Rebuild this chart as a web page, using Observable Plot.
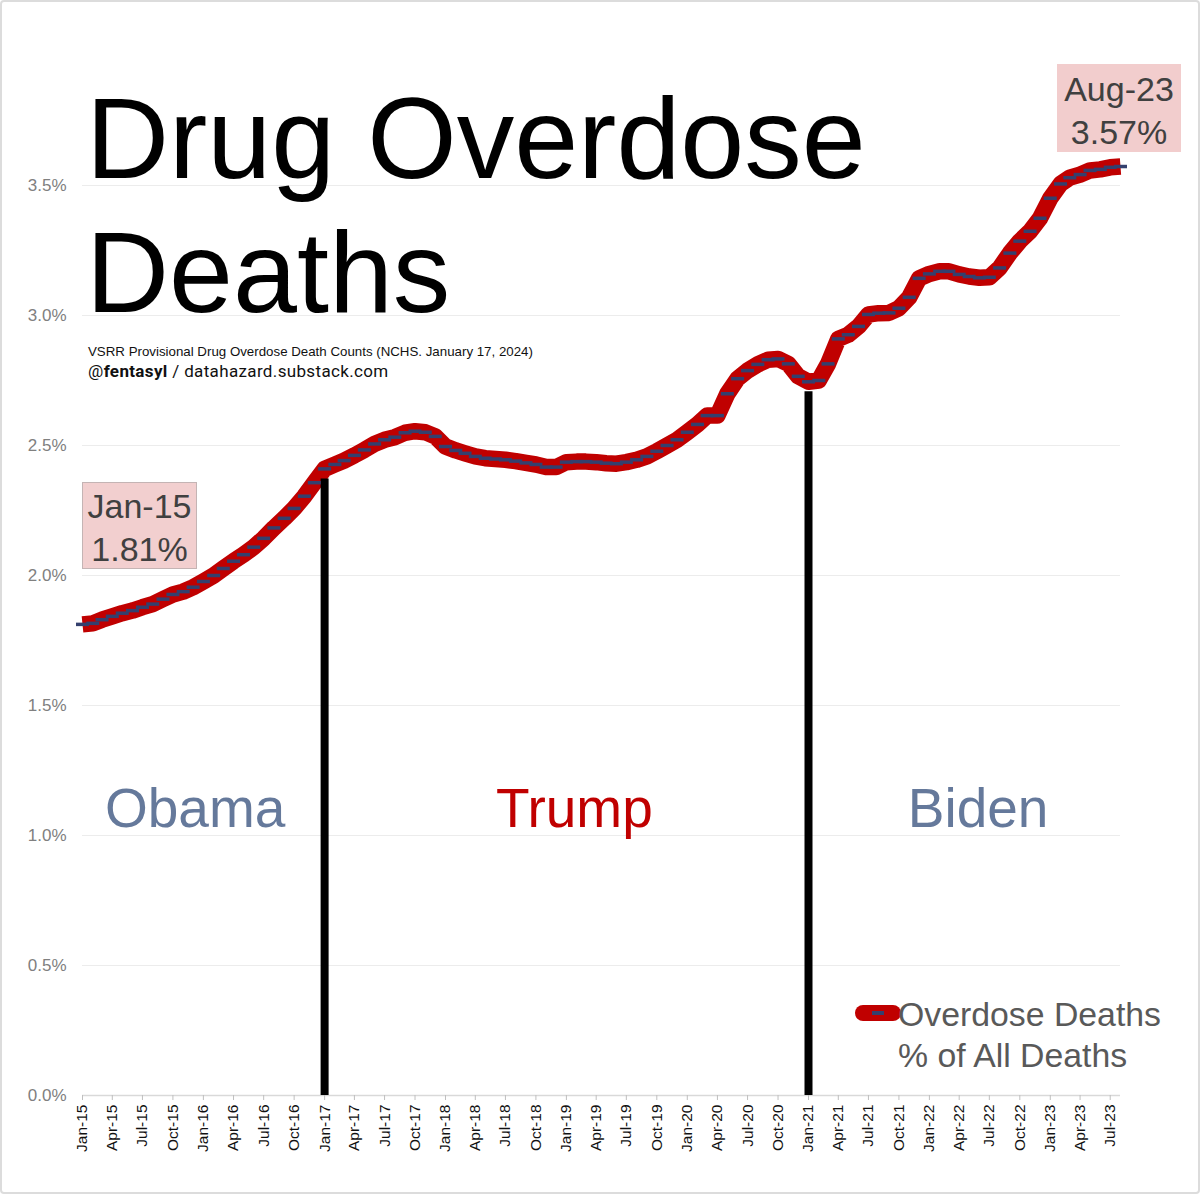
<!DOCTYPE html>
<html><head><meta charset="utf-8">
<script src="https://cdn.jsdelivr.net/npm/d3@7"></script>
<script src="https://cdn.jsdelivr.net/npm/@observablehq/plot@0.6"></script>
<style>
html,body{margin:0;padding:0;background:#fff;overflow:hidden}
#wrap{position:relative;width:1200px;height:1194px;font-family:"Liberation Sans",Arial,sans-serif}
#chart{position:absolute;left:0;top:0}
.abs{position:absolute;white-space:nowrap}
.box{position:absolute;text-align:center;font-size:34px;line-height:43px;color:#404040;box-sizing:border-box}
</style></head><body>
<div id="wrap">
  <div id="chart"></div>
  <div class="abs" style="left:0;top:0;width:1196px;height:1190px;border:2px solid #dcdcdc;border-radius:4px"></div>
  <div id="title" class="abs" style="left:86px;top:71px;font-size:115px;line-height:134px;color:#000"></div>
  <div id="source" class="abs" style="left:88px;top:344px;font-size:13.3px;line-height:16px;color:#111"></div>
  <div id="handle" class="abs" style="left:88px;top:361px;font-family:Roboto,sans-serif;font-size:17px;line-height:20px;letter-spacing:0.35px;color:#111"></div>
  <div id="boxStart" class="box" style="left:82px;top:482px;width:115px;height:87px;padding-top:2px;background:#f2cfcf;border:1px solid #c4b4b4"></div>
  <div id="boxEnd" class="box" style="left:1057px;top:64px;width:124px;height:88px;padding-top:4px;background:#f2cdcd"></div>
  <div class="abs" style="left:855px;top:1005px;width:46px;height:16px;background:#c00000;border-radius:8px"></div>
  <div class="abs" style="left:872px;top:1011px;width:12px;height:3.5px;background:#34406e"></div>
  <div id="legend" class="abs" style="left:898px;top:994px;font-size:33.8px;line-height:41px;color:#595959"></div>
</div>
<script>
// ---- data (percent of all deaths, monthly, 12-month ending) ----
const startMonth = "2015-01";
const v2015 = [1.812, 1.816, 1.83, 1.843, 1.855, 1.865, 1.878, 1.89, 1.909, 1.927, 1.938, 1.955];
const v2016 = [1.977, 2.0, 2.027, 2.055, 2.08, 2.109, 2.143, 2.183, 2.22, 2.258, 2.305, 2.357];
const v2017 = [2.41, 2.427, 2.442, 2.462, 2.483, 2.506, 2.522, 2.532, 2.549, 2.555, 2.551, 2.535];
const v2018 = [2.496, 2.481, 2.47, 2.458, 2.451, 2.448, 2.445, 2.44, 2.433, 2.427, 2.417, 2.417];
const v2019 = [2.436, 2.438, 2.438, 2.436, 2.432, 2.43, 2.436, 2.445, 2.458, 2.478, 2.5, 2.522];
const v2020 = [2.551, 2.581, 2.615, 2.615, 2.699, 2.757, 2.788, 2.812, 2.83, 2.833, 2.814, 2.766];
const v2021 = [2.745, 2.75, 2.814, 2.91, 2.926, 2.958, 3.004, 3.009, 3.01, 3.028, 3.07, 3.143];
const v2022 = [3.16, 3.17, 3.17, 3.158, 3.15, 3.145, 3.147, 3.183, 3.24, 3.286, 3.324, 3.374];
const v2023 = [3.451, 3.506, 3.53, 3.542, 3.558, 3.562, 3.57, 3.573];

const yTicks = [0, 0.005, 0.01, 0.015, 0.02, 0.025, 0.03, 0.035];
const inaugurations = ["2017-01", "2021-01"];
const presidents = ["Obama", "Trump", "Biden"];
const presidentDates = ["2015-12-07", "2019-01-25", "2022-05-28"];
const presidentColors = ["#65799b", "#c00000", "#65799b"];
const presidentLevel = 0.011;

const titleLines = ["Drug Overdose", "Deaths"];
const sourceText = "VSRR Provisional Drug Overdose Death Counts (NCHS. January 17, 2024)";
const legendLines = ["Overdose Deaths", "% of All Deaths"];

const RED = "#c00000", NAVY = "#34406e";

// ---- build table ----
const parseM = d3.utcParse("%Y-%m");
const start = parseM(startMonth);
const values = [...v2015, ...v2016, ...v2017, ...v2018, ...v2019, ...v2020, ...v2021, ...v2022, ...v2023];
const data = values.map((v, i) => ({date: d3.utcMonth.offset(start, i), value: v / 100}));
const first = data[0], last = data[data.length - 1];
const xTicks = d3.utcMonth.every(3).range(start, d3.utcMonth.offset(last.date, 1));
const fmtM = d3.utcFormat("%b-%y");
const inaugData = inaugurations.map(s => {
  const d = parseM(s);
  return data.find(e => +e.date === +d);
});
const presData = presidents.map((name, i) => ({name, date: d3.utcParse("%Y-%m-%d")(presidentDates[i]), color: presidentColors[i], value: presidentLevel}));

const dashSymbol = {
  draw(ctx, size) {
    const r = Math.sqrt(size / Math.PI);
    ctx.moveTo(-r, 0);
    ctx.lineTo(r, 0);
  }
};

const chart = Plot.plot({
  width: 1200,
  height: 1194,
  marginLeft: 82,
  marginRight: 80,
  marginTop: 55,
  marginBottom: 99,
  style: {fontFamily: '"Liberation Sans", Arial, sans-serif', background: "transparent", overflow: "visible"},
  x: {type: "utc", domain: [first.date, last.date]},
  y: {domain: [0, 0.04]},
  marks: [
    Plot.gridY({ticks: yTicks, stroke: "#ececec", strokeOpacity: 1}),
    Plot.axisY({ticks: yTicks, tickFormat: d3.format(".1%"), tickSize: 0, tickPadding: 16, fontSize: 17, fill: "#808080", label: null}),
    Plot.ruleY([0], {stroke: "#d9d9d9", strokeWidth: 1.5}),
    Plot.axisX({ticks: xTicks, tickFormat: fmtM, tickRotate: -90, tickSize: 5, tickPadding: 4, fontSize: 15.5, stroke: "#bfbfbf", fill: "#111", label: null}),
    Plot.lineY(data, {x: "date", y: "value", stroke: RED, strokeWidth: 16.5, strokeLinejoin: "round", strokeLinecap: "butt"}),
    Plot.ruleX(inaugData, {x: "date", y1: 0, y2: "value", stroke: "#000", strokeWidth: 8, insetBottom: -10}),
    Plot.dot(data, {x: "date", y: "value", r: 6.5, symbol: dashSymbol, stroke: NAVY, strokeWidth: 3.5, fill: "none"}),
    Plot.text(presData, {x: "date", y: "value", text: "name", fill: "color", fontSize: 55, textAnchor: "middle", lineAnchor: "middle"})
  ]
});
document.getElementById("chart").appendChild(chart);

document.getElementById("title").innerHTML = titleLines.join("<br>");
document.getElementById("source").textContent = sourceText;
document.getElementById("handle").innerHTML = '@<b style="font-weight:700">fentasyl</b> / datahazard.substack.com';
document.getElementById("boxStart").innerHTML = fmtM(first.date) + "<br>" + (first.value * 100).toFixed(2) + "%";
document.getElementById("boxEnd").innerHTML = fmtM(last.date) + "<br>" + (last.value * 100).toFixed(2) + "%";
document.getElementById("legend").innerHTML = legendLines.join("<br>");
</script>
</body></html>
